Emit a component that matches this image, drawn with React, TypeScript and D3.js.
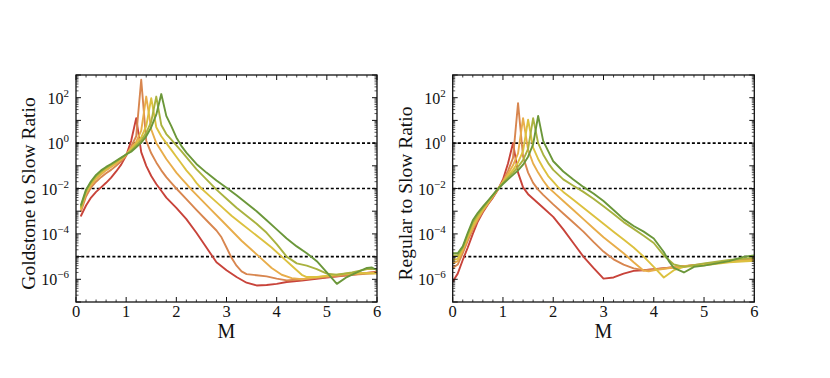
import React from "react";
import * as d3 from "d3";

type Pt = [number, number]; // [M, log10(ratio)]

const M_TICKS = [0, 1, 2, 3, 4, 5, 6];
const Y_LABEL_EXPONENTS = [2, 0, -2, -4, -6];
const REFERENCE_EXPONENTS = [0, -2, -5];
const SERIES_COLORS = ["#c8433a", "#d8864f", "#e8ad4a", "#dcc13f", "#a9b23f", "#6b973a"];

// ---- Goldstone to Slow Ratio (left panel), values are log10 of the ratio ----
const goldRed: Pt[] = [
  [0.1, -3.2], [0.2, -2.75], [0.3, -2.4], [0.4, -2.15], [0.5, -1.95], [0.6, -1.75], [0.7, -1.52],
  [0.8, -1.25], [0.9, -0.95], [1.0, -0.55], [1.1, 0.1], [1.2, 1.1], [1.3, -0.4], [1.4, -1.0],
  [1.5, -1.45], [1.6, -1.8], [1.7, -2.1], [1.8, -2.4], [2.0, -2.85], [2.2, -3.35], [2.4, -3.95],
  [2.6, -4.6], [2.8, -5.25], [3.0, -5.6], [3.2, -5.9], [3.4, -6.15], [3.6, -6.27], [3.8, -6.25],
  [4.0, -6.2], [4.2, -6.12], [4.5, -6.05], [5.0, -5.92], [5.5, -5.8], [6.0, -5.66],
];
const goldOrange: Pt[] = [
  [0.1, -3.0], [0.2, -2.35], [0.3, -1.95], [0.4, -1.7], [0.5, -1.5], [0.6, -1.33], [0.7, -1.18],
  [0.8, -1.0], [0.9, -0.8], [1.0, -0.55], [1.1, -0.15], [1.2, 0.3], [1.3, 2.79], [1.4, 0.1],
  [1.5, -0.45], [1.6, -0.85], [1.7, -1.2], [1.8, -1.5], [1.9, -1.75], [2.0, -2.0], [2.2, -2.47],
  [2.4, -2.94], [2.6, -3.4], [2.8, -3.85], [2.9, -4.15], [3.0, -4.6], [3.1, -5.05], [3.2, -5.4],
  [3.3, -5.65], [3.4, -5.77], [3.6, -5.82], [3.8, -5.87], [4.0, -5.97], [4.2, -6.05], [4.5, -6.0],
  [5.0, -5.9], [5.5, -5.8], [6.0, -5.72],
];
const goldAmber: Pt[] = [
  [0.1, -2.9], [0.2, -2.2], [0.3, -1.85], [0.4, -1.58], [0.5, -1.38], [0.6, -1.2], [0.7, -1.05],
  [0.8, -0.9], [0.9, -0.72], [1.0, -0.52], [1.1, -0.22], [1.2, 0.05], [1.3, 0.55], [1.4, 2.05],
  [1.5, 0.6], [1.6, 0.0], [1.7, -0.35], [1.8, -0.7], [1.9, -1.0], [2.0, -1.3], [2.1, -1.55],
  [2.2, -1.8], [2.3, -2.05], [2.5, -2.5], [2.7, -2.95], [2.9, -3.4], [3.1, -3.85], [3.3, -4.3],
  [3.5, -4.7], [3.7, -5.1], [3.9, -5.5], [4.1, -5.8], [4.3, -5.95], [4.5, -6.0], [5.0, -5.85],
  [5.5, -5.75], [6.0, -5.7],
];
const goldYellow: Pt[] = [
  [0.1, -2.85], [0.2, -2.15], [0.3, -1.78], [0.4, -1.5], [0.5, -1.3], [0.6, -1.13], [0.7, -0.98],
  [0.8, -0.84], [0.9, -0.68], [1.0, -0.5], [1.1, -0.28], [1.2, -0.03], [1.3, 0.25], [1.4, 0.75],
  [1.5, 1.98], [1.6, 0.7], [1.7, 0.3], [1.8, 0.0], [1.9, -0.3], [2.0, -0.6], [2.1, -0.9],
  [2.2, -1.2], [2.3, -1.45], [2.4, -1.75], [2.5, -2.0], [2.7, -2.4], [2.9, -2.8], [3.1, -3.2],
  [3.3, -3.55], [3.5, -3.9], [3.7, -4.25], [3.9, -4.6], [4.1, -5.0], [4.3, -5.4], [4.5, -5.8],
  [4.6, -5.9], [4.8, -5.9], [5.0, -5.85], [5.5, -5.72], [6.0, -5.75],
];
const goldLime: Pt[] = [
  [0.1, -2.8], [0.2, -2.1], [0.3, -1.73], [0.4, -1.45], [0.5, -1.25], [0.6, -1.09], [0.7, -0.95],
  [0.8, -0.81], [0.9, -0.66], [1.0, -0.5], [1.1, -0.33], [1.2, -0.1], [1.3, 0.12], [1.4, 0.45],
  [1.5, 0.95], [1.6, 2.05], [1.7, 0.8], [1.8, 0.4], [1.9, 0.15], [2.0, -0.1], [2.1, -0.35],
  [2.2, -0.62], [2.4, -1.15], [2.6, -1.6], [2.8, -2.05], [3.0, -2.45], [3.2, -2.85], [3.4, -3.2],
  [3.6, -3.55], [3.8, -3.95], [4.0, -4.45], [4.2, -5.0], [4.4, -5.3], [4.6, -5.4], [4.8, -5.55],
  [5.0, -5.75], [5.2, -5.8], [5.5, -5.7], [5.8, -5.55], [6.0, -5.55],
];
const goldGreen: Pt[] = [
  [0.1, -2.72], [0.2, -2.05], [0.3, -1.68], [0.4, -1.4], [0.5, -1.2], [0.6, -1.05], [0.7, -0.92],
  [0.8, -0.78], [0.9, -0.64], [1.0, -0.5], [1.1, -0.38], [1.2, -0.18], [1.3, 0.02], [1.4, 0.3],
  [1.5, 0.7], [1.6, 1.25], [1.7, 2.16], [1.8, 1.2], [1.9, 0.75], [2.0, 0.25], [2.1, -0.12],
  [2.2, -0.42], [2.4, -0.92], [2.6, -1.3], [2.8, -1.65], [3.0, -1.97], [3.2, -2.3], [3.4, -2.65],
  [3.6, -3.0], [3.8, -3.4], [4.0, -3.8], [4.2, -4.2], [4.4, -4.55], [4.6, -4.85], [4.8, -5.2],
  [5.0, -5.7], [5.2, -6.2], [5.4, -5.9], [5.6, -5.7], [5.8, -5.5], [5.9, -5.48], [6.0, -5.6],
];

// ---- Regular to Slow Ratio (right panel), values are log10 of the ratio ----
const regRed: Pt[] = [
  [0.0, -6.1], [0.1, -5.75], [0.2, -5.15], [0.3, -4.6], [0.4, -4.0], [0.5, -3.45], [0.6, -3.05],
  [0.7, -2.7], [0.8, -2.4], [0.9, -2.05], [1.0, -1.6], [1.1, -0.9], [1.2, 0.0], [1.3, -1.3],
  [1.4, -1.95], [1.5, -2.25], [1.6, -2.45], [1.7, -2.65], [1.8, -2.85], [2.0, -3.25], [2.2, -3.8],
  [2.4, -4.4], [2.6, -5.0], [2.8, -5.5], [3.0, -5.97], [3.2, -5.92], [3.4, -5.75], [3.6, -5.63],
  [3.8, -5.6], [4.0, -5.55], [4.5, -5.45], [5.0, -5.35], [5.5, -5.22], [6.0, -5.12],
];
const regOrange: Pt[] = [
  [0.0, -5.5], [0.1, -5.35], [0.2, -4.85], [0.3, -4.3], [0.4, -3.8], [0.5, -3.38], [0.6, -3.0],
  [0.7, -2.68], [0.8, -2.37], [0.9, -2.04], [1.0, -1.68], [1.1, -1.22], [1.2, -0.65], [1.3, 1.76],
  [1.4, -0.6], [1.5, -1.3], [1.6, -1.75], [1.7, -2.05], [1.8, -2.28], [2.0, -2.7], [2.2, -3.1],
  [2.4, -3.5], [2.6, -3.9], [2.8, -4.35], [3.0, -4.78], [3.2, -5.12], [3.4, -5.35], [3.6, -5.52],
  [3.8, -5.6], [4.0, -5.57], [4.5, -5.45], [5.0, -5.32], [5.5, -5.2], [6.0, -5.1],
];
const regAmber: Pt[] = [
  [0.0, -5.3], [0.1, -5.2], [0.2, -4.72], [0.3, -4.2], [0.4, -3.72], [0.5, -3.32], [0.6, -2.96],
  [0.7, -2.65], [0.8, -2.34], [0.9, -2.03], [1.0, -1.7], [1.1, -1.35], [1.2, -0.98], [1.3, -0.45],
  [1.4, 1.1], [1.5, -0.3], [1.6, -0.9], [1.7, -1.3], [1.8, -1.65], [1.9, -1.95], [2.0, -2.15],
  [2.2, -2.55], [2.4, -2.95], [2.6, -3.35], [2.8, -3.75], [3.0, -4.15], [3.2, -4.5], [3.4, -4.85],
  [3.6, -5.25], [3.8, -5.62], [3.9, -5.65], [4.0, -5.6], [4.5, -5.45], [5.0, -5.35], [5.5, -5.22],
  [6.0, -5.15],
];
const regYellow: Pt[] = [
  [0.0, -5.15], [0.1, -5.1], [0.2, -4.65], [0.3, -4.1], [0.4, -3.62], [0.5, -3.25], [0.6, -2.92],
  [0.7, -2.62], [0.8, -2.31], [0.9, -2.02], [1.0, -1.72], [1.1, -1.45], [1.2, -1.18], [1.3, -0.85],
  [1.4, -0.35], [1.5, 1.03], [1.6, -0.2], [1.7, -0.7], [1.8, -1.1], [1.9, -1.45], [2.0, -1.7],
  [2.1, -1.95], [2.2, -2.15], [2.4, -2.5], [2.6, -2.85], [2.8, -3.2], [3.0, -3.55], [3.2, -3.9],
  [3.4, -4.25], [3.6, -4.6], [3.8, -5.0], [4.0, -5.45], [4.2, -5.92], [4.4, -5.6], [4.6, -5.45],
  [5.0, -5.38], [5.5, -5.25], [6.0, -5.18],
];
const regLime: Pt[] = [
  [0.0, -4.95], [0.1, -4.95], [0.2, -4.6], [0.3, -4.02], [0.4, -3.5], [0.5, -3.15], [0.6, -2.86],
  [0.7, -2.58], [0.8, -2.29], [0.9, -2.02], [1.0, -1.76], [1.1, -1.52], [1.2, -1.3], [1.3, -1.05],
  [1.4, -0.75], [1.5, -0.25], [1.6, 1.1], [1.7, 0.0], [1.8, -0.5], [1.9, -0.88], [2.0, -1.18],
  [2.2, -1.6], [2.4, -1.88], [2.6, -2.15], [2.8, -2.45], [3.0, -2.78], [3.2, -3.12], [3.4, -3.48],
  [3.6, -3.78], [3.8, -4.08], [4.0, -4.4], [4.2, -4.95], [4.4, -5.35], [4.6, -5.45], [5.0, -5.3],
  [5.5, -5.15], [6.0, -5.05],
];
const regGreen: Pt[] = [
  [0.0, -4.85], [0.1, -4.85], [0.2, -4.55], [0.3, -3.95], [0.4, -3.4], [0.5, -3.07], [0.6, -2.8],
  [0.7, -2.54], [0.8, -2.28], [0.9, -2.02], [1.0, -1.8], [1.1, -1.6], [1.2, -1.4], [1.3, -1.2],
  [1.4, -0.95], [1.5, -0.6], [1.6, -0.05], [1.7, 1.2], [1.8, 0.1], [1.9, -0.35], [2.0, -0.8],
  [2.2, -1.25], [2.4, -1.6], [2.6, -1.93], [2.8, -2.22], [3.0, -2.55], [3.2, -2.95], [3.4, -3.35],
  [3.6, -3.65], [3.8, -3.9], [4.0, -4.2], [4.2, -4.8], [4.3, -5.2], [4.4, -5.5], [4.6, -5.7],
  [4.8, -5.45], [5.0, -5.4], [5.5, -5.2], [5.8, -5.0], [6.0, -4.95],
];

const goldSeries = [goldRed, goldOrange, goldAmber, goldYellow, goldLime, goldGreen];
const regSeries = [regRed, regOrange, regAmber, regYellow, regLime, regGreen];

const FONT = "'Liberation Serif', 'Times New Roman', Times, serif";
const TOP = 75;
const BOTTOM = 302;

function supLabel(e: number) {
  return e < 0 ? "\u2212" + Math.abs(e) : String(e);
}

function Panel({ x0, x1, label, series, id }: { x0: number; x1: number; label: string; series: Pt[][]; id: string }) {
  const x = d3.scaleLinear().domain([0, 6]).range([x0, x1]);
  const y = d3.scaleLog().domain([1e-7, 1e3]).range([BOTTOM, TOP]);
  const line = d3
    .line<Pt>()
    .x((d) => x(d[0]))
    .y((d) => y(Math.pow(10, d[1])));

  const xMinor = d3.range(0, 30.5, 1).map((i) => i / 5).filter((v) => Math.abs(v - Math.round(v)) > 1e-6);
  const yMajor = d3.range(-7, 4);
  const yMinor: number[] = [];
  for (let e = -7; e < 3; e++) for (let k = 2; k <= 9; k++) yMinor.push(k * Math.pow(10, e));

  const tickColor = "#111";
  return (
    <g>
      <defs>
        <clipPath id={id}>
          <rect x={x0} y={TOP} width={x1 - x0} height={BOTTOM - TOP} />
        </clipPath>
      </defs>
      <g clipPath={`url(#${id})`}>
        {REFERENCE_EXPONENTS.map((e) => (
          <line key={e} x1={x0} x2={x1} y1={y(Math.pow(10, e))} y2={y(Math.pow(10, e))}
            stroke="#000" strokeWidth={1.7} strokeDasharray="3,2.2" />
        ))}
        {series.map((s, i) => (
          <path key={i} d={line(s) || ""} fill="none" stroke={SERIES_COLORS[i]} strokeWidth={1.9}
            strokeLinejoin="round" strokeLinecap="round" />
        ))}
      </g>
      {M_TICKS.map((t) => (
        <g key={"xM" + t}>
          <line x1={x(t)} x2={x(t)} y1={BOTTOM} y2={BOTTOM - 5} stroke={tickColor} strokeWidth={1} />
          <line x1={x(t)} x2={x(t)} y1={TOP} y2={TOP + 5} stroke={tickColor} strokeWidth={1} />
          <text x={x(t)} y={317} textAnchor="middle" fontFamily={FONT} fontSize={16.5} fill="#111">{t}</text>
        </g>
      ))}
      {xMinor.map((t) => (
        <g key={"xm" + t}>
          <line x1={x(t)} x2={x(t)} y1={BOTTOM} y2={BOTTOM - 2.5} stroke={tickColor} strokeWidth={0.8} />
          <line x1={x(t)} x2={x(t)} y1={TOP} y2={TOP + 2.5} stroke={tickColor} strokeWidth={0.8} />
        </g>
      ))}
      {yMajor.map((e) => {
        const yy = y(Math.pow(10, e));
        return (
          <g key={"yM" + e}>
            <line x1={x0} x2={x0 + 5} y1={yy} y2={yy} stroke={tickColor} strokeWidth={1} />
            <line x1={x1} x2={x1 - 5} y1={yy} y2={yy} stroke={tickColor} strokeWidth={1} />
          </g>
        );
      })}
      {yMinor.map((v, i) => {
        const yy = y(v);
        return (
          <g key={"ym" + i}>
            <line x1={x0} x2={x0 + 2.5} y1={yy} y2={yy} stroke={tickColor} strokeWidth={0.7} />
            <line x1={x1} x2={x1 - 2.5} y1={yy} y2={yy} stroke={tickColor} strokeWidth={0.7} />
          </g>
        );
      })}
      {Y_LABEL_EXPONENTS.map((e) => {
        const yy = y(Math.pow(10, e));
        return (
          <text key={"yl" + e} x={x0 - 7} y={yy + 6} textAnchor="end" fontFamily={FONT} fontSize={16} fill="#111">
            10
            <tspan dy={-7} fontSize={11}>{supLabel(e)}</tspan>
          </text>
        );
      })}
      <rect x={x0} y={TOP} width={x1 - x0} height={BOTTOM - TOP} fill="none" stroke="#111" strokeWidth={1.3} />
      <text x={(x0 + x1) / 2} y={338} textAnchor="middle" fontFamily={FONT} fontSize={20} fill="#111">M</text>
      <text transform={`translate(${x0 - 41},${(TOP + BOTTOM) / 2 + 5}) rotate(-90)`} textAnchor="middle"
        fontFamily={FONT} fontSize={19.5} fill="#111">{label}</text>
    </g>
  );
}

export default function App() {
  return (
    <svg width={830} height={378} style={{ position: "absolute", left: 0, top: 0, background: "#fff" }}>
      <rect x={0} y={0} width={830} height={378} fill="#fff" />
      <Panel x0={76} x1={377} label="Goldstone to Slow Ratio" series={goldSeries} id="clipGold" />
      <Panel x0={452.7} x1={754.3} label="Regular to Slow Ratio" series={regSeries} id="clipReg" />
    </svg>
  );
}
